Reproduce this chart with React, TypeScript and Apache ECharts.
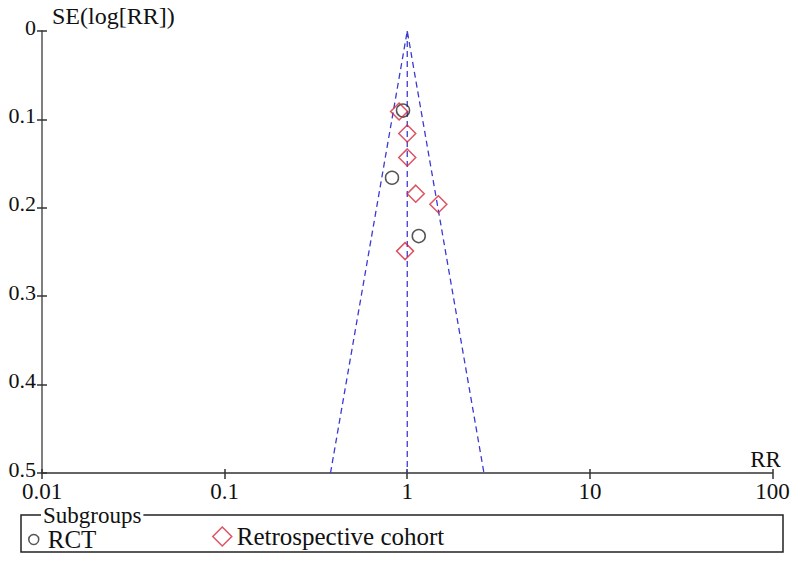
import React, { useEffect, useRef } from "react";
import * as echarts from "echarts";

// RR (x) and SE(log RR) (y)
const rctRR = [0.948, 0.825, 1.156];
const rctSE = [0.09, 0.166, 0.232];
const cohortRR = [0.902, 1.0, 1.0, 1.113, 1.48, 0.973];
const cohortSE = [0.091, 0.116, 0.143, 0.184, 0.196, 0.249];

// funnel (pooled estimate and 95% limits at SE = 0.5)
const pooledRR = 1.0;
const funnelLowRR = 0.38;
const funnelHighRR = 2.63;
const seMax = 0.5;

const xTicks = [0.01, 0.1, 1, 10, 100];
const yTicks = [0, 0.1, 0.2, 0.3, 0.4, 0.5];

const FONT = "'Liberation Serif', serif";

export default function App() {
  const ref = useRef<HTMLDivElement>(null);
  useEffect(() => {
    if (!ref.current) return;
    const chart = echarts.init(ref.current, null, { renderer: "svg" });
    const rctData = rctRR.map((v, i) => [v, rctSE[i]]);
    const cohortData = cohortRR.map((v, i) => [v, cohortSE[i]]);
    const funnel = [
      [funnelLowRR, seMax],
      [pooledRR, 0],
      [funnelHighRR, seMax],
    ];
    const centre = [
      [pooledRR, 0],
      [pooledRR, seMax],
    ];
    const axisColor = "#333";
    const blue = "#3a3ad4";
    const red = "#d3283c";
    const dark = "#2b2b2b";
    const xBase = {
      type: "log",
      logBase: 10,
      min: xTicks[0],
      max: xTicks[xTicks.length - 1],
      position: "bottom",
      splitLine: { show: false },
      minorTick: { show: false },
    };
    const yBase = {
      type: "value",
      inverse: true,
      min: yTicks[0],
      max: yTicks[yTicks.length - 1],
      interval: 0.1,
      position: "left",
      splitLine: { show: false },
    };
    chart.setOption({
      animation: false,
      backgroundColor: "#fff",
      textStyle: { fontFamily: FONT },
      grid: { left: 42, right: 32.5, top: 31, bottom: 101, containLabel: false },
      xAxis: [
        {
          ...xBase,
          name: "RR",
          nameLocation: "end",
          nameGap: -7,
          nameTextStyle: {
            fontFamily: FONT,
            fontSize: 23,
            color: "#111",
            align: "center",
            verticalAlign: "bottom",
            padding: [0, 0, 2, 0],
          },
          axisLine: { show: true, onZero: false, lineStyle: { color: axisColor, width: 1.5 } },
          axisTick: { show: true, length: 6, lineStyle: { color: axisColor, width: 1.5 } },
          axisLabel: {
            fontFamily: FONT,
            fontSize: 23,
            color: "#111",
            margin: 8,
            lineHeight: 20,
            formatter: (v: number) => String(+v.toPrecision(3)),
          },
        },
        {
          ...xBase,
          axisLine: { show: false, onZero: false },
          axisTick: { show: true, inside: true, length: 4, lineStyle: { color: axisColor, width: 1.5 } },
          axisLabel: { show: false },
        },
      ],
      yAxis: [
        {
          ...yBase,
          axisLine: { show: true, onZero: false, lineStyle: { color: "#555", width: 1.5 } },
          axisTick: { show: true, length: 5, lineStyle: { color: axisColor, width: 1.5 } },
          axisLabel: {
            fontFamily: FONT,
            fontSize: 22,
            color: "#111",
            margin: 6,
            lineHeight: 8,
            verticalAlign: "bottom",
          },
        },
        {
          ...yBase,
          axisLine: { show: false, onZero: false },
          axisTick: { show: true, inside: true, length: 5, lineStyle: { color: axisColor, width: 1.5 } },
          axisLabel: { show: false },
        },
      ],
      legend: [
        {
          data: [{ name: "RCT", icon: "circle", itemStyle: { color: "transparent", borderColor: dark, borderWidth: 1.5 } }],
          left: 28,
          top: 527,
          padding: 0,
          itemWidth: 10,
          itemHeight: 10,
          selectedMode: false,
          textStyle: { fontFamily: FONT, fontSize: 25, color: "#111", padding: [5, 0, 0, 4] },
        },
        {
          data: [{ name: "Retrospective cohort", icon: "diamond", itemStyle: { color: "transparent", borderColor: red, borderWidth: 1.5 } }],
          left: 212,
          top: 524,
          padding: 0,
          itemWidth: 19,
          itemHeight: 19,
          selectedMode: false,
          textStyle: { fontFamily: FONT, fontSize: 25, color: "#111", padding: [5, 0, 0, 0] },
        },
      ],
      graphic: [
        {
          type: "text",
          left: 52,
          top: 4,
          style: { text: "SE(log[RR])", fontFamily: FONT, fontSize: 24, fill: "#111" },
        },
        {
          type: "rect",
          shape: { x: 21, y: 515, width: 762, height: 37 },
          style: { fill: "none", stroke: "#222", lineWidth: 1.5 },
          z: 10,
        },
        {
          type: "text",
          x: 41,
          y: 515,
          z: 11,
          style: {
            text: "Subgroups",
            fontFamily: FONT,
            fontSize: 23,
            fill: "#111",
            verticalAlign: "middle",
            backgroundColor: "#fff",
            padding: [0, 2, 0, 2],
          },
        },
      ],
      series: [
        {
          type: "line",
          data: funnel,
          symbol: "none",
          silent: true,
          lineStyle: { color: blue, width: 1.3, type: [6, 4] },
          z: 1,
        },
        {
          type: "line",
          data: centre,
          symbol: "none",
          silent: true,
          lineStyle: { color: blue, width: 1.3, type: [6, 4] },
          z: 1,
        },
        {
          name: "RCT",
          type: "scatter",
          data: rctData,
          symbol: "circle",
          symbolSize: 13,
          itemStyle: { color: "transparent", borderColor: dark, borderWidth: 1.5 },
          z: 3,
        },
        {
          name: "Retrospective cohort",
          type: "scatter",
          data: cohortData,
          symbol: "diamond",
          symbolSize: 17,
          itemStyle: { color: "transparent", borderColor: red, borderWidth: 1.5 },
          z: 3,
        },
      ],
    });
    return () => chart.dispose();
  }, []);
  return (
    <div
      ref={ref}
      style={{ position: "fixed", left: 0, top: 0, width: 805, height: 574, background: "#fff" }}
    />
  );
}
